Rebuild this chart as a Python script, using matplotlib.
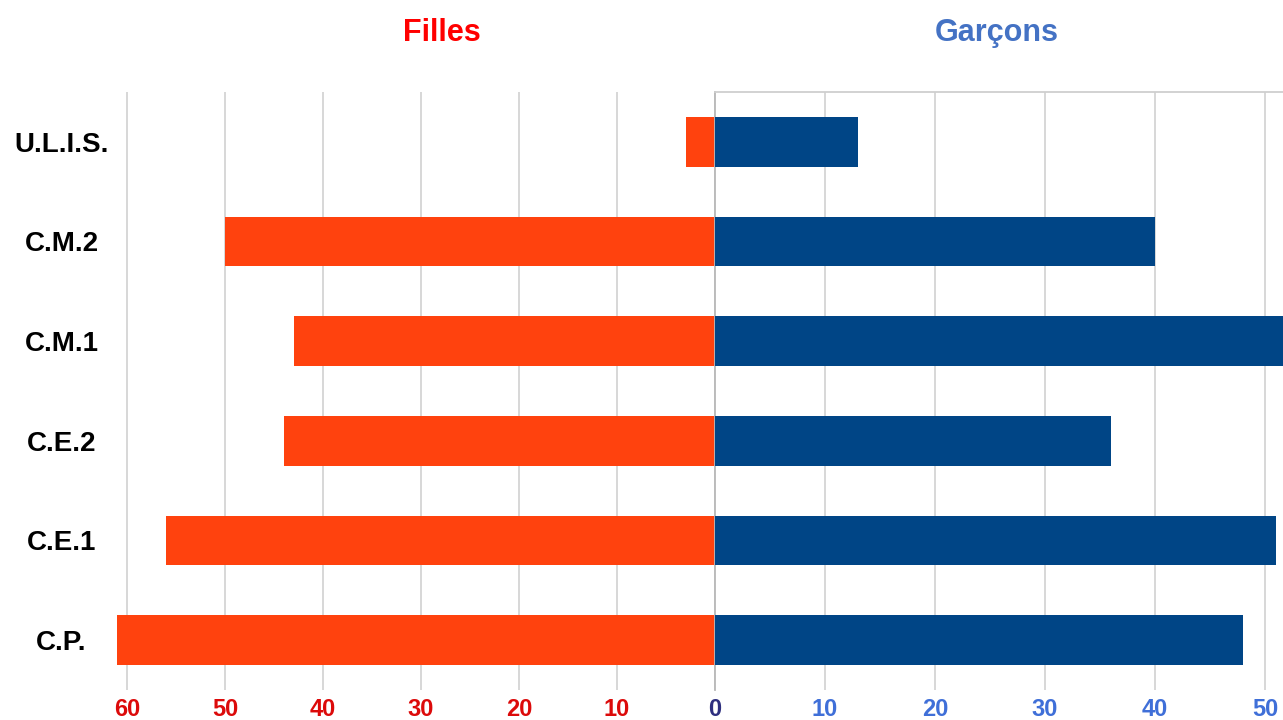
import matplotlib.pyplot as plt

# Donnees
classes = ['C.P.', 'C.E.1', 'C.E.2', 'C.M.1', 'C.M.2', 'U.L.I.S.']
filles = [61, 56, 44, 43, 50, 3]
garcons = [48, 51, 36, 54, 40, 13]
ticks_filles = [60, 50, 40, 30, 20, 10, 0]
ticks_garcons = [10, 20, 30, 40, 50]

orange = '#ff420e'
bleu = '#004586'
gris = '#d4d4d4'
font_lab = 'Liberation Sans'
font_titre = ['Liberation Sans Narrow', 'Liberation Sans', 'DejaVu Sans']

fig = plt.figure(figsize=(12.83, 7.2), dpi=100)
ax_f = fig.add_axes([0.0837, 0.0417, 0.4736, 0.8306])
ax_g = fig.add_axes([0.5573, 0.0417, 0.4427, 0.8306])

y = list(range(len(classes)))

# Filles (axe inverse)
ax_f.barh(y, filles, height=0.5, color=orange, zorder=3)
ax_f.set_xlim(62, 0)
ax_f.set_ylim(-0.5, 5.5)
ax_f.set_xticks(ticks_filles)
ax_f.set_xticklabels([str(t) for t in ticks_filles])
ax_f.set_yticks(y)
ax_f.set_yticklabels(classes)
ax_f.grid(axis='x', color=gris, linewidth=1.3, zorder=0)
for s in ax_f.spines.values():
    s.set_visible(False)
ax_f.tick_params(axis='both', length=0)
ax_f.tick_params(axis='x', pad=6)
ax_f.tick_params(axis='y', pad=33)
for lab in ax_f.get_yticklabels():
    lab.set_fontfamily(font_lab)
    lab.set_fontweight('bold')
    lab.set_fontsize(20)
    lab.set_horizontalalignment('center')
for lab, t in zip(ax_f.get_xticklabels(), ticks_filles):
    lab.set_fontfamily(font_lab)
    lab.set_fontweight('bold')
    lab.set_fontsize(17)
    lab.set_color('#2e2f7f' if t == 0 else '#dc0a0a')

# Garcons
ax_g.barh(y, garcons, height=0.5, color=bleu, zorder=3)
ax_g.set_xlim(0, 51.64)
ax_g.set_ylim(-0.5, 5.5)
ax_g.set_xticks(ticks_garcons)
ax_g.set_xticklabels([str(t) for t in ticks_garcons])
ax_g.set_yticks([])
ax_g.grid(axis='x', color=gris, linewidth=1.3, zorder=0)
for s in ax_g.spines.values():
    s.set_visible(False)
ax_g.spines['left'].set_visible(True)
ax_g.spines['left'].set_color('#b8b8b8')
ax_g.spines['left'].set_linewidth(1.3)
ax_g.spines['top'].set_visible(True)
ax_g.spines['top'].set_color('#cfcfcf')
ax_g.spines['top'].set_linewidth(1.3)
ax_g.tick_params(axis='both', length=0)
ax_g.tick_params(axis='x', pad=6)
for lab in ax_g.get_xticklabels():
    lab.set_fontfamily(font_lab)
    lab.set_fontweight('bold')
    lab.set_fontsize(17)
    lab.set_color('#3f6fd8')

# Titres
fig.text(0.3441, 0.943, 'Filles', color='#ff0000', fontsize=22,
         fontweight='bold', family=font_titre, ha='center', va='baseline')
fig.text(0.777, 0.943, 'Garçons', color='#4472c4', fontsize=22,
         fontweight='bold', family=font_titre, ha='center', va='baseline')

plt.savefig('out.png', dpi=100)
